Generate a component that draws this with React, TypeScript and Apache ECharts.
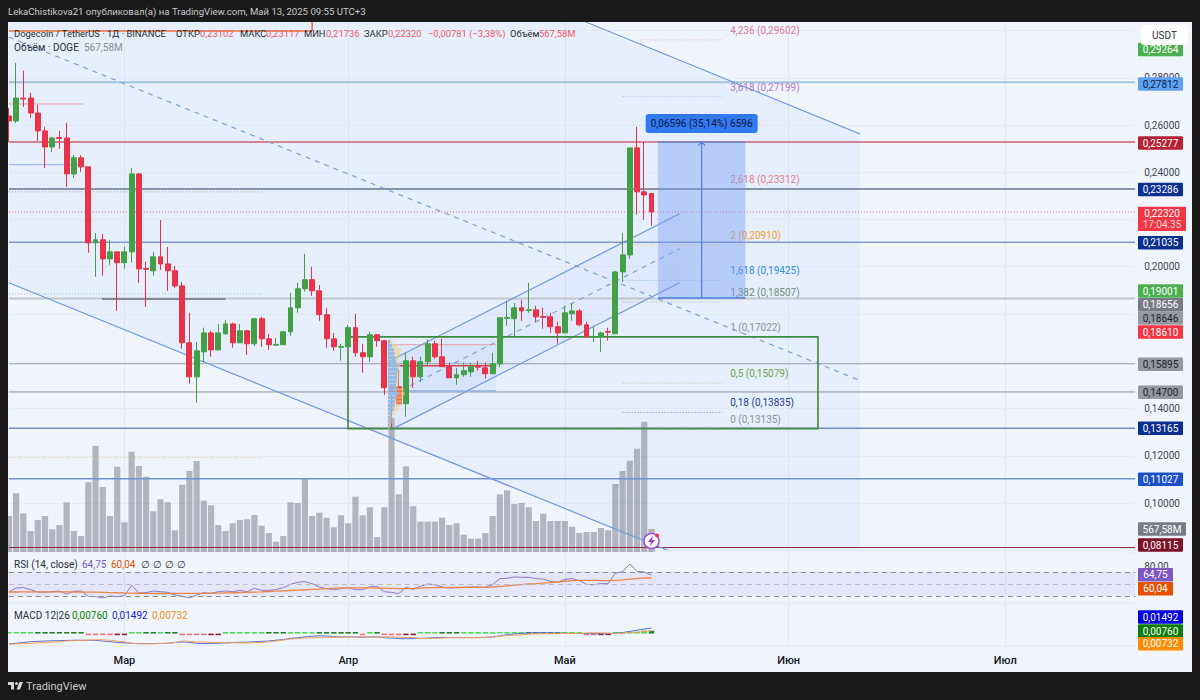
import { useEffect, useRef } from 'react';
import * as echarts from 'echarts';

const FONT = 'Roboto, sans-serif';

// day slots on the time axis, first one is 13 Feb
const SLOT_COUNT = 157;
const monthStarts = [16, 47, 77, 108, 138];
const monthLabels = ['Мар', 'Апр', 'Май', 'Июн', 'Июл'];
const priceTickLabels = [0.28, 0.26, 0.24, 0.2, 0.14, 0.12, 0.1];

// open, close, low, high
const candles = [
  [0.2638, 0.2617, 0.2528, 0.2672], [0.2617, 0.2714, 0.2609, 0.2863], [0.2714, 0.271, 0.2676, 0.283], [0.2714, 0.2651, 0.263, 0.2736],
  [0.2651, 0.2575, 0.2533, 0.2685], [0.2575, 0.2507, 0.2418, 0.2592], [0.2507, 0.2545, 0.2486, 0.255], [0.2547, 0.2543, 0.2499, 0.2575],
  [0.2545, 0.2393, 0.2338, 0.2609], [0.2393, 0.2461, 0.2376, 0.2473], [0.2461, 0.2423, 0.2401, 0.2473], [0.2423, 0.2101, 0.2059, 0.2423],
  [0.2101, 0.2114, 0.1957, 0.2143], [0.2114, 0.2033, 0.1962, 0.2139], [0.2033, 0.2063, 0.2008, 0.2114], [0.2063, 0.2017, 0.1813, 0.2063],
  [0.2017, 0.2063, 0.1991, 0.2084], [0.2063, 0.2393, 0.2017, 0.2418], [0.2393, 0.1991, 0.1932, 0.2397], [0.1993, 0.1989, 0.183, 0.2021],
  [0.1983, 0.2042, 0.1962, 0.2063], [0.2042, 0.2012, 0.1987, 0.2198], [0.2012, 0.1983, 0.1898, 0.2084], [0.1983, 0.1919, 0.1911, 0.2004],
  [0.1919, 0.1678, 0.1653, 0.1936], [0.1678, 0.1534, 0.1505, 0.1805], [0.1534, 0.1644, 0.1424, 0.1682], [0.164, 0.172, 0.1598, 0.1742],
  [0.172, 0.1648, 0.1619, 0.1729], [0.1648, 0.172, 0.1648, 0.1758], [0.1716, 0.1758, 0.1712, 0.1775], [0.1758, 0.1678, 0.1657, 0.1763],
  [0.1678, 0.1729, 0.1678, 0.1758], [0.1729, 0.1674, 0.1627, 0.1733], [0.1674, 0.178, 0.1665, 0.1784], [0.178, 0.1695, 0.1661, 0.1788],
  [0.1695, 0.167, 0.1648, 0.1716], [0.1668, 0.1671, 0.1665, 0.1699], [0.167, 0.1725, 0.167, 0.1725], [0.1725, 0.1826, 0.1708, 0.189],
  [0.1826, 0.1907, 0.1805, 0.1932], [0.1907, 0.1945, 0.1894, 0.2055], [0.1945, 0.1898, 0.1877, 0.2], [0.1898, 0.1797, 0.1771, 0.1923],
  [0.1797, 0.1695, 0.1657, 0.1826], [0.1695, 0.1661, 0.1644, 0.172], [0.1659, 0.1662, 0.1602, 0.1674], [0.1661, 0.1742, 0.1661, 0.1754],
  [0.1742, 0.1636, 0.1619, 0.1801], [0.1636, 0.1619, 0.1551, 0.1674], [0.1619, 0.1712, 0.1598, 0.1725], [0.1712, 0.1687, 0.1661, 0.1716],
  [0.1687, 0.1488, 0.1458, 0.1691], [0.1488, 0.147, 0.1319, 0.1505], [0.1492, 0.142, 0.1416, 0.1564], [0.142, 0.1602, 0.1365, 0.1636],
  [0.1602, 0.1534, 0.1488, 0.1619], [0.1534, 0.1598, 0.1513, 0.1619], [0.1598, 0.1674, 0.1585, 0.1691], [0.1674, 0.1619, 0.161, 0.1687],
  [0.1619, 0.1577, 0.1577, 0.1695], [0.1577, 0.153, 0.153, 0.1594], [0.153, 0.1543, 0.15, 0.1572], [0.1543, 0.156, 0.1534, 0.1594],
  [0.1555, 0.1577, 0.1534, 0.1594], [0.1578, 0.1575, 0.156, 0.1602], [0.1572, 0.1547, 0.1526, 0.1594], [0.1547, 0.1589, 0.1547, 0.1636],
  [0.1589, 0.1784, 0.1577, 0.1784], [0.1782, 0.1785, 0.175, 0.1856], [0.178, 0.1826, 0.1704, 0.1847], [0.1826, 0.1813, 0.1771, 0.186],
  [0.1815, 0.1818, 0.1805, 0.1932], [0.1818, 0.1788, 0.1767, 0.1835], [0.1789, 0.1786, 0.1737, 0.1826], [0.1788, 0.1746, 0.172, 0.1805],
  [0.1746, 0.172, 0.1674, 0.1767], [0.172, 0.1805, 0.172, 0.1835], [0.1801, 0.1813, 0.1771, 0.1847], [0.1813, 0.1754, 0.175, 0.1822],
  [0.1754, 0.1704, 0.1699, 0.1767], [0.1702, 0.1705, 0.1682, 0.1746], [0.1704, 0.172, 0.164, 0.1725], [0.1726, 0.1723, 0.1687, 0.1742],
  [0.1716, 0.1978, 0.1716, 0.1983], [0.1978, 0.205, 0.1936, 0.2143], [0.205, 0.2503, 0.2033, 0.2503], [0.2503, 0.2317, 0.222, 0.2592],
  [0.2317, 0.2304, 0.2198, 0.2528], [0.23102, 0.2232, 0.21736, 0.23117],
];

// volume in millions
const volumes = [
  889, 1450, 956, 519, 790, 889, 561, 667, 1228, 519, 395, 1722, 2618, 1606, 889, 2107, 734, 2477, 2124, 1860,
  1005, 1302, 1228, 536, 1662, 2001, 2248, 1267, 1153, 667, 519, 709, 790, 808, 914, 650, 469, 254, 395, 1228,
  1210, 1820, 889, 971, 847, 610, 906, 709, 1366, 906, 1104, 370, 1104, 3310, 1425, 2117, 1129, 748, 748, 748,
  847, 667, 709, 427, 329, 329, 469, 889, 1425, 1524, 1186, 1210, 1104, 766, 946, 766, 766, 766, 625, 469,
  494, 494, 593, 536, 1680, 2001, 2255, 2552, 3218, 568,
];

const rsiValues = [
  36.7, 43.3, 43.9, 40.6, 36.7, 36.1, 37.2, 38.3, 33.3, 37.8, 38.3, 29.4, 28.9, 26.7, 30, 28.9, 30.6, 47.8, 35, 35.6,
  38.3, 37.2, 36.1, 31.7, 29.4, 26.7, 31.7, 35.6, 34.4, 37.2, 38.3, 37.2, 39.4, 37.2, 42.8, 39.4, 39.4, 40.6, 43.9, 49.4,
  52.8, 53.9, 50.6, 45, 42.2, 40.6, 42.2, 43.9, 40.6, 40.6, 45.6, 46.1, 37.2, 36.1, 33.9, 44.4, 41.1, 46.1, 50, 48.9,
  45, 43.3, 43.9, 44.4, 45, 45, 44.4, 48.9, 58.9, 59.4, 61.7, 61.1, 61.1, 58.9, 58.3, 54.4, 52.8, 57.8, 58.9, 55.6,
  49.4, 48.9, 50.6, 50.6, 68.3, 70.6, 83.3, 71.1, 70, 64.75,
];

const rsiAverage = [
  36.7, 36.7, 36.8, 36.9, 37, 37, 36.9, 36.8, 36.8, 36.7, 36.6, 36.5, 36.3, 36, 35.7, 35.4, 35, 34.8, 34.6, 34.4,
  34.2, 34.2, 34.2, 34.3, 34.3, 34.4, 34.4, 34.5, 34.6, 34.8, 35.1, 35.4, 35.8, 36.2, 36.6, 37, 37.5, 38, 38.6, 39.2,
  39.8, 40.4, 41, 41.6, 42.2, 43, 43.4, 43.5, 43.6, 43.6, 43.4, 43.2, 43, 42.7, 42.3, 42.2, 42.6, 43.2, 43.8, 44,
  44.1, 44.2, 44.2, 44.3, 44.4, 44.5, 44.6, 45, 46, 47, 48, 49, 50, 50.6, 51.4, 52.4, 53.3, 54.6, 55.5, 56,
  56.2, 56, 55.8, 55.7, 56.2, 57, 58, 59, 60, 60.04,
];

const macdLine = [
  -0.028, -0.026, -0.024, -0.022, -0.021, -0.02, -0.0195, -0.019, -0.0185, -0.018, -0.018, -0.018, -0.0185, -0.02, -0.022, -0.024, -0.025,
  -0.026, -0.027, -0.027, -0.027, -0.0265, -0.026, -0.024, -0.0225, -0.024, -0.026, -0.027, -0.0265, -0.026,
  -0.025, -0.024, -0.0235, -0.023, -0.022, -0.021, -0.02, -0.018, -0.016, -0.013, -0.011, -0.009, -0.007, -0.006, -0.0065, -0.008, -0.009,
  -0.009, -0.009, -0.01, -0.009, -0.009, -0.011, -0.012, -0.0135, -0.014, -0.0135, -0.013, -0.012, -0.011, -0.0105, -0.0105, -0.0105, -0.0105, -0.0105, -0.0105, -0.01, -0.009,
  -0.006, -0.003, -0.001, 0.0005, 0.002, 0.0025, 0.0025, 0.002, 0.0015, 0.001, 0.0005, 0.0002, 0, -0.0002, -0.0003, -0.0003,
  0.001, 0.003, 0.006, 0.009, 0.0125, 0.01492,
];

const macdSignal = [
  -0.029, -0.028, -0.027, -0.0265, -0.025, -0.024, -0.023, -0.0215, -0.02, -0.019, -0.0185, -0.0175, -0.0165, -0.0165, -0.018, -0.0205, -0.022,
  -0.0265, -0.0275, -0.0275, -0.0275, -0.027, -0.0265, -0.0245, -0.02, -0.021, -0.0225, -0.023, -0.0235, -0.024,
  -0.026, -0.025, -0.025, -0.025, -0.0245, -0.024, -0.0225, -0.02, -0.0175, -0.015, -0.0135, -0.012, -0.0115, -0.01, -0.01, -0.01, -0.01,
  -0.0095, -0.0095, -0.0085, -0.0095, -0.0095, -0.009, -0.009, -0.0095, -0.0105, -0.0105, -0.0135, -0.013, -0.013, -0.012, -0.011, -0.011, -0.011, -0.011, -0.011, -0.0105, -0.0095,
  -0.007, -0.005, -0.004, -0.0035, -0.0015, -0.0005, 0, -0.0005, 0.001, 0.0005, 0.0002, 0.0001, 0.002, 0.0022, 0.0022, 0.0017,
  0, 0.001, 0.0025, 0.0035, 0.006, 0.00732,
];

const macdHistogram = [
  0.001, 0.002, 0.003, 0.0045, 0.004, 0.0035, 0.003, 0.002, 0.001, 0.0008, 0.0004,
  -0.002, -0.003, -0.0035, -0.004, -0.0035, -0.003,
  0.0006, 0.0008, 0.0006, 0.0005, 0.0006, 0.0004, 0.0003,
  -0.002, -0.003, -0.0035, -0.004, -0.003, -0.002,
  0.0008, 0.001, 0.0015, 0.002, 0.0025, 0.003, 0.0025, 0.002,
  0.0015, 0.002, 0.0025, 0.003, 0.0045, 0.004, 0.0035, 0.002, 0.001,
  0.0005, 0.0004, -0.0015, 0.0005, 0.0004, -0.002, -0.003, -0.004, -0.0035, -0.003,
  0.0005, 0.001, 0.002, 0.0015, 0.0005, 0.0004, 0.0004, 0.0004, 0.0004, 0.0004, 0.0004,
  0.001, 0.002, 0.003, 0.004, 0.0035, 0.003, 0.0025,
  0.0005, 0.0004, 0.0004, 0.0004, 0.0004,
  -0.002, -0.0025, -0.0025, -0.002,
  0.001, 0.002, 0.0035, 0.005, 0.0085, 0.0076,
];

// horizontal levels over the whole pane
const levelPrices = [0.27812, 0.25277, 0.23286, 0.2232, 0.21035, 0.18656, 0.15895, 0.147, 0.13165, 0.11027, 0.08115];

// short drawings: slot from, price from, slot to, price to
const shortLines = [
  [0, 0.2998, 42, 0.2998],
  [42, 0.2998, 42, 0.32],
  [0, 0.2689, 10.4, 0.2689],
  [0, 0.2432, 10.4, 0.2432],
  [0, 0.2317, 35, 0.2317],
  [0, 0.1885, 35, 0.1885],
  [12.9, 0.1864, 30, 0.1864],
  [0, 0.1192, 35, 0.1192],
  [52.5, 0.167, 67.5, 0.167],
  [52.5, 0.1581, 67.5, 0.1581],
  [52.5, 0.1475, 67.5, 0.1475],
];

const downChannel = [
  [78.8, 0.305, 117.9, 0.2562],
  [0, 0.2972, 117.6, 0.1522],
  [0, 0.1932, 91.8, 0.0793],
];

const upChannel = [
  [53.06, 0.1606, 92.9, 0.2224],
  [53.06, 0.1458, 92.9, 0.2076],
  [53.5, 0.1319, 92.9, 0.1932],
];

const channelAreas = [
  [[0, 0.4005], [117.9, 0.2562], [117.9, 0.0793], [91.8, 0.0793], [0, 0.1932]],
  [[53.06, 0.1606], [92.9, 0.2224], [92.9, 0.1932], [53.5, 0.1319]],
];

const zoneBox = [46.97, 0.1703, 112.06, 0.1315];
const valueAreaBox = [52.5, 0.167, 67.5, 0.1475];
const longBox = [89.9, 0.25277, 102, 0.18681];
const longLabel = '0,06596 (35,14%) 6596';

const fibTexts = ['4,236 (0,29602)', '3,618 (0,27199)', '2,618 (0,23312)', '2 (0,20910)', '1,618 (0,19425)', '1,382 (0,18507)', '1 (0,17022)', '0,5 (0,15079)', '0,18 (0,13835)', '0 (0,13135)'];
const fibPrices = [0.29602, 0.27199, 0.23312, 0.2091, 0.19425, 0.18507, 0.17022, 0.15079, 0.13835, 0.13135];
const fibLineFrom = [87, 85, 85, 86.3, 85, 85, 85, 85, 85, 85];
const fibLineTo = 98.8;
const fibTextAt = 99.9;

// volume profile rows: price, width of the blue part, width of the whole row (in slots)
const profilePrices = [0.1682, 0.1665, 0.1648, 0.1631, 0.1614, 0.1598, 0.1581, 0.1564, 0.1547, 0.153, 0.1513, 0.1496, 0.1479, 0.1462, 0.1445, 0.1428, 0.1411, 0.1395, 0.1378, 0.1361, 0.1344, 0.1327, 0.131];
const profileBlue = [0.32, 0.55, 0.78, 0.92, 1.02, 1.11, 1.39, 1.39, 1.29, 1.25, 1.2, 1.11, 1.29, 1.39, 1.11, 1.02, 0.92, 0.78, 0.55, 0.46, 0.32, 0.18, 0.09];
const profileTotal = [0.65, 1.25, 1.85, 1.71, 1.48, 1.39, 1.66, 1.57, 1.66, 1.57, 1.48, 1.48, 2.17, 2.31, 2.03, 1.94, 1.57, 1.39, 1.02, 0.78, 0.55, 0.37, 0.18];

const headerText = 'LekaChistikova21 опубликовал(а) на TradingView.com, Май 13, 2025 09:55 UTC+3';

const DARK = '#1a1a1a';
const UP = '#43a047';
const DOWN = '#e8334a';
const TEXT_SIZE = 10;
const LEGEND_SIZE = 9.4;

const levelStyles: any[] = [
  ['#a3c3de', 2], ['#c9606e', 1.5], ['#8492aa', 2], ['#e0609a', 1, [1, 2]], ['#8298c9', 1.5], ['#c3c5cb', 2],
  ['#9a9eab', 1], ['#8f93a0', 1], ['#7189bb', 1.5], ['#7391d2', 1.5], ['#8a2a3c', 1],
];
const shortStyles: any[] = [
  ['#e8703a', 1.5], ['#e8703a', 1.5], ['#f0a0a8', 1], ['#90b0e8', 1], ['#a0a4ad', 1, [1, 2]], ['#8cc4c4', 1, [1, 2]],
  ['#85878d', 2], ['#e8c27a', 1, [1, 2]], ['#e8a0a8', 1], ['#d9404a', 1.5], ['#90b0e8', 1.2],
];
const channelStyles: any[] = [
  ['#6f9ae0', 1.2], ['#7fa3d9', 1.2, [5, 5]], ['#6f9ae0', 1.2],
  ['#6f9ae0', 1.2], ['#7fa3d9', 1.2, [5, 5]], ['#6f9ae0', 1.2],
];
const segmentStyles = [...levelStyles, ...shortStyles, ...channelStyles];
const fibColors = ['#e6789a', '#b07cc6', '#e38089', '#f0a030', '#2f8fe0', '#6f8f76', '#8f939c', '#6aa84f', '#1f3f8f', '#8f939c'];

echarts.graphic.registerShape(
  'tvLogo',
  echarts.graphic.extendPath('M14 6H2v6h6v9h6V6zm12 15h-7l6-15h7l-6 15zm-7-9a3 3 0 1 0 0-6 3 3 0 0 0 0 6z', {}),
);

const fmtPrice = (v: number) => v.toFixed(5).replace('.', ',');

function tag(text: string, cy: number, bg: string, fg = '#ffffff', x2 = 1183) {
  return [
    { type: 'rect', z: 60, shape: { x: 1138, y: cy - 6.8, width: x2 - 1138, height: 13.6, r: 1 }, style: { fill: bg } },
    { type: 'text', z: 61, style: { x: (1138 + x2) / 2, y: cy, text, fill: fg, font: `${TEXT_SIZE}px ${FONT}`, textAlign: 'center', textVerticalAlign: 'middle' } },
  ];
}

function label(text: string, x: number, y: number, fill: string, size = TEXT_SIZE) {
  return { type: 'text', z: 50, style: { x, y, text, fill, font: `${size}px ${FONT}`, textVerticalAlign: 'middle' } };
}

function buildOption(): any {
  const slots = Array.from({ length: SLOT_COUNT }, (_, i) => String(i));
  const monthLine = { show: true, interval: (i: number) => monthStarts.includes(i), lineStyle: { color: '#e1e8f1', width: 1 } };

  const categoryAxis = (gridIndex: number, extra: any = {}) => ({
    type: 'category', gridIndex, data: slots, boundaryGap: false,
    axisLine: { show: false }, axisTick: { show: false }, axisLabel: { show: false }, splitLine: { show: false },
    ...extra,
  });

  const segments = [...levelPrices.map((p) => [0, p, 156, p]), ...shortLines, ...downChannel, ...upChannel];

  const panel: any[] = [
    { type: 'rect', z: -1, shape: { x: 8, y: 22, width: 1184, height: 650 }, style: { fill: '#f0f5fc' } },
    { type: 'line', z: 1, shape: { x1: 8, y1: 552, x2: 1135, y2: 552 }, style: { stroke: '#e1e8f1' } },
    { type: 'line', z: 1, shape: { x1: 8, y1: 603, x2: 1135, y2: 603 }, style: { stroke: '#e1e8f1' } },
    { type: 'line', z: 1, shape: { x1: 8, y1: 646, x2: 1135, y2: 646 }, style: { stroke: '#e1e8f1' } },
  ];

  const frame: any[] = [
    { type: 'rect', z: 40, shape: { x: 0, y: 0, width: 1200, height: 22 }, style: { fill: DARK } },
    { type: 'rect', z: 40, shape: { x: 0, y: 0, width: 8, height: 700 }, style: { fill: DARK } },
    { type: 'rect', z: 40, shape: { x: 1192, y: 0, width: 8, height: 700 }, style: { fill: DARK } },
    { type: 'rect', z: 40, shape: { x: 0, y: 672, width: 1200, height: 28 }, style: { fill: DARK } },
    { type: 'text', z: 41, style: { x: 8, y: 11.5, text: headerText, fill: '#c9c9c9', font: `9.6px ${FONT}`, textVerticalAlign: 'middle' } },
    { type: 'tvLogo', z: 41, x: 7, y: 679, scaleX: 0.5, scaleY: 0.5, style: { fill: '#d6d6d6' } },
    { type: 'text', z: 41, style: { x: 26, y: 686, text: 'TradingView', fill: '#c9c9c9', font: `11px ${FONT}`, textVerticalAlign: 'middle' } },
  ];

  const legend: any[] = [
    label('Dogecoin / TetherUS · 1Д · BINANCE', 14, 33, '#2a2e39', LEGEND_SIZE),
    label('ОТКР', 176, 33, '#2a2e39', LEGEND_SIZE), label('0,23102', 200, 33, '#ef5a6a', LEGEND_SIZE),
    label('МАКС', 240, 33, '#2a2e39', LEGEND_SIZE), label('0,23117', 266, 33, '#ef5a6a', LEGEND_SIZE),
    label('МИН', 304, 33, '#2a2e39', LEGEND_SIZE), label('0,21736', 326, 33, '#ef5a6a', LEGEND_SIZE),
    label('ЗАКР', 364, 33, '#2a2e39', LEGEND_SIZE), label('0,22320', 388, 33, '#ef5a6a', LEGEND_SIZE),
    label('−0,00781 (−3,38%)', 428, 33, '#ef5a6a', LEGEND_SIZE),
    label('Объём', 510, 33, '#2a2e39', LEGEND_SIZE), label('567,58M', 539, 33, '#ef5a6a', LEGEND_SIZE),
    label('Объём · DOGE', 14, 47, '#2a2e39'), label('567,58M', 84, 47, '#8a8e99'),
    label('RSI (14, close)', 14, 564, '#2a2e39'), label('64,75', 82, 564, '#7e57c2'), label('60,04', 111, 564, '#e65100'),
    label('∅', 141, 564, '#2a2e39'), label('∅', 153, 564, '#2a2e39'), label('∅', 165, 564, '#2a2e39'), label('∅', 177, 564, '#2a2e39'),
    label('MACD 12|26', 14, 615, '#2a2e39'), label('0,00760', 72, 615, '#0a7d0a'), label('0,01492', 112, 615, '#1c1cd8'), label('0,00732', 152, 615, '#f5921e'),
  ];

  const tags: any[] = [
    ...tag(fmtPrice(0.29264), 49.5, '#4caf50'),
    ...tag(fmtPrice(0.27812), 84, '#5ea1f5', '#12223f'),
    ...tag(fmtPrice(0.25277), 143, '#b22233'),
    ...tag(fmtPrice(0.23286), 189.5, '#0d2f8f'),
    { type: 'rect', z: 60, shape: { x: 1138, y: 206.7, width: 48, height: 24.3, r: 1 }, style: { fill: '#f23645' } },
    { type: 'text', z: 61, style: { x: 1162, y: 213, text: fmtPrice(0.2232), fill: '#ffffff', font: `${TEXT_SIZE}px ${FONT}`, textAlign: 'center', textVerticalAlign: 'middle' } },
    { type: 'text', z: 61, style: { x: 1162, y: 224.5, text: '17:04:35', fill: '#ffd5d9', font: `${TEXT_SIZE}px ${FONT}`, textAlign: 'center', textVerticalAlign: 'middle' } },
    ...tag(fmtPrice(0.21035), 242.7, '#0d2f8f'),
    ...tag(fmtPrice(0.19001), 291, '#4caf50'),
    ...tag(fmtPrice(0.18656), 304.7, '#787b86'),
    ...tag(fmtPrice(0.18646), 318, '#9598a1', '#22252d'),
    ...tag(fmtPrice(0.1861), 332, '#f23645'),
    ...tag(fmtPrice(0.15895), 364.3, '#9598a1', '#22252d'),
    ...tag(fmtPrice(0.147), 392.3, '#9598a1', '#22252d'),
    ...tag(fmtPrice(0.13165), 428.3, '#0d2f8f'),
    ...tag(fmtPrice(0.11027), 479.3, '#1e50c8'),
    ...tag('567,58M', 529, '#787b86', '#ffffff', 1186),
    ...tag(fmtPrice(0.08115), 545, '#7d1128'),
    ...tag('64,75', 574.7, '#7e57c2', '#ffffff', 1173),
    ...tag('60,04', 588.7, '#e65100', '#ffffff', 1173),
    ...tag(fmtPrice(0.01492), 617, '#0000e0'),
    ...tag(fmtPrice(0.0076), 631, '#0a7d0a'),
    ...tag(fmtPrice(0.00732), 643.7, '#ff8c00'),
    { type: 'rect', z: 62, shape: { x: 1141, y: 25, width: 47, height: 20, r: 3 }, style: { fill: '#ffffff' } },
    { type: 'text', z: 63, style: { x: 1164.5, y: 35, text: 'USDT', fill: '#2a2e39', font: `${TEXT_SIZE}px ${FONT}`, textAlign: 'center', textVerticalAlign: 'middle' } },
  ];

  const bolt: any[] = [
    { type: 'circle', z: 55, shape: { cx: 651.5, cy: 541, r: 7.5 }, style: { fill: '#ffffff', stroke: '#a64dd6', lineWidth: 1.5 } },
    { type: 'polygon', z: 56, shape: { points: [[653, 535.5], [648, 542], [651, 542], [650, 546.5], [655, 540], [652, 540]] }, style: { fill: '#9c3fd0' } },
    { type: 'circle', z: 56, shape: { cx: 657, cy: 535.5, r: 2 }, style: { fill: '#f23645' } },
  ];

  return {
    animation: false,
    backgroundColor: DARK,
    textStyle: { fontFamily: FONT },
    grid: [
      { left: 8.9, right: 64.8, top: -16.75, height: 567, outerBoundsMode: 'none' },
      { left: 8.9, right: 64.8, top: 402, height: 150, outerBoundsMode: 'none' },
      { left: 8.9, right: 64.8, top: 554, height: 48, outerBoundsMode: 'none' },
      { left: 8.9, right: 64.8, top: 604, height: 40.7, outerBoundsMode: 'none' },
    ],
    xAxis: [
      categoryAxis(0, { splitLine: monthLine }),
      { type: 'value', gridIndex: 0, min: 0, max: SLOT_COUNT - 1, show: false },
      categoryAxis(1),
      categoryAxis(2, { splitLine: monthLine }),
      categoryAxis(3, {
        splitLine: monthLine,
        axisLabel: {
          show: true,
          interval: (i: number) => monthStarts.includes(i),
          formatter: (_: string, i: number) => monthLabels[monthStarts.indexOf(i)] ?? '',
          color: '#131722', fontSize: 11, fontFamily: FONT, fontWeight: 500, margin: 10,
        },
      }),
    ],
    yAxis: [
      {
        type: 'value', gridIndex: 0, position: 'right', min: 0.08, max: 0.32, interval: 0.02,
        axisLine: { show: false }, axisTick: { show: false },
        splitLine: { lineStyle: { color: '#e5ecf5', width: 1 } },
        axisLabel: {
          color: '#434651', fontSize: TEXT_SIZE, fontFamily: FONT, margin: 9,
          formatter: (v: number) => (priceTickLabels.some((t) => Math.abs(t - v) < 1e-6) ? fmtPrice(v) : ''),
        },
      },
      { type: 'value', gridIndex: 1, min: 0, max: 3705, show: false },
      {
        type: 'value', gridIndex: 2, position: 'right', min: 20, max: 100, interval: 10,
        axisLine: { show: false }, axisTick: { show: false }, splitLine: { show: false },
        axisLabel: {
          color: '#434651', fontSize: TEXT_SIZE, fontFamily: FONT, margin: 9,
          formatter: (v: number) => (v === 80 ? '80,00' : ''),
        },
      },
      { type: 'value', gridIndex: 3, min: -0.03, max: 0.08, show: false },
    ],
    series: [
      {
        type: 'custom', name: 'channel areas', xAxisIndex: 1, yAxisIndex: 0, clip: true, silent: true, z: 1,
        data: channelAreas.map((a) => a[0]),
        renderItem: (params: any, api: any) => ({
          type: 'polygon',
          shape: { points: channelAreas[params.dataIndex].map((p) => api.coord(p)) },
          style: { fill: params.dataIndex === 0 ? 'rgba(66,133,244,0.055)' : 'rgba(66,133,244,0.04)' },
        }),
      },
      {
        type: 'custom', name: 'value area', xAxisIndex: 1, yAxisIndex: 0, clip: true, silent: true, z: 1,
        data: [valueAreaBox],
        renderItem: (_: any, api: any) => {
          const a = api.coord([api.value(0), api.value(1)]);
          const b = api.coord([api.value(2), api.value(3)]);
          return { type: 'rect', shape: { x: a[0], y: a[1], width: b[0] - a[0], height: b[1] - a[1] }, style: { fill: 'rgba(66,133,244,0.06)' } };
        },
      },
      {
        type: 'bar', name: 'Объём', xAxisIndex: 2, yAxisIndex: 1, data: volumes, barWidth: 6.2, z: 2, silent: true,
        itemStyle: { color: 'rgba(120,123,134,0.52)' },
      },
      {
        type: 'custom', name: 'lines', xAxisIndex: 1, yAxisIndex: 0, clip: true, silent: true, z: 3,
        encode: { x: [0, 2], y: [1, 3] },
        data: segments,
        renderItem: (params: any, api: any) => {
          const a = api.coord([api.value(0), api.value(1)]);
          const b = api.coord([api.value(2), api.value(3)]);
          const s = segmentStyles[params.dataIndex];
          return {
            type: 'line',
            shape: { x1: a[0], y1: a[1], x2: b[0], y2: b[1] },
            style: { stroke: s[0], lineWidth: s[1], lineDash: s[2] ?? null, fill: null },
          };
        },
      },
      {
        type: 'custom', name: 'zone', xAxisIndex: 1, yAxisIndex: 0, clip: true, silent: true, z: 3,
        encode: { x: [0, 2], y: [1, 3] },
        data: [zoneBox],
        renderItem: (_: any, api: any) => {
          const a = api.coord([api.value(0), api.value(1)]);
          const b = api.coord([api.value(2), api.value(3)]);
          return {
            type: 'rect',
            shape: { x: a[0], y: a[1], width: b[0] - a[0], height: b[1] - a[1] },
            style: { fill: null, stroke: '#3d8b40', lineWidth: 1.6 },
          };
        },
      },
      {
        type: 'candlestick', name: 'DOGEUSDT', xAxisIndex: 0, yAxisIndex: 0, data: candles, barWidth: 5.4, z: 4, silent: true,
        itemStyle: { color: UP, color0: DOWN, borderColor: UP, borderColor0: DOWN, borderWidth: 1 },
      },
      {
        type: 'custom', name: 'profile', xAxisIndex: 1, yAxisIndex: 0, clip: true, silent: true, z: 5,
        data: profilePrices.map((p) => [52.5, p]),
        renderItem: (params: any, api: any) => {
          const i = params.dataIndex;
          const a = api.coord([52.5, profilePrices[i]]);
          const blueEnd = api.coord([52.5 + profileBlue[i], profilePrices[i]]);
          const allEnd = api.coord([52.5 + profileTotal[i], profilePrices[i]]);
          return {
            type: 'group',
            children: [
              { type: 'rect', shape: { x: a[0], y: a[1] - 2, width: allEnd[0] - a[0], height: 3.6 }, style: { fill: 'rgba(245,205,120,0.6)' } },
              { type: 'rect', shape: { x: a[0], y: a[1] - 2, width: blueEnd[0] - a[0], height: 3.6 }, style: { fill: 'rgba(140,186,240,0.92)' } },
            ],
          };
        },
      },
      {
        type: 'custom', name: 'fib', xAxisIndex: 1, yAxisIndex: 0, clip: true, silent: true, z: 6,
        data: fibPrices.map((p, i) => [fibLineFrom[i], p]),
        renderItem: (params: any, api: any) => {
          const i = params.dataIndex;
          const a = api.coord([fibLineFrom[i], fibPrices[i]]);
          const b = api.coord([fibLineTo, fibPrices[i]]);
          const t = api.coord([fibTextAt, fibPrices[i]]);
          return {
            type: 'group',
            children: [
              { type: 'line', shape: { x1: a[0], y1: a[1], x2: b[0], y2: b[1] }, style: { stroke: fibColors[i], lineWidth: 1, lineDash: [1, 2], opacity: 0.6, fill: null } },
              { type: 'text', style: { x: t[0], y: t[1] - 9.5, text: fibTexts[i], fill: fibColors[i], font: `${TEXT_SIZE}px ${FONT}`, textVerticalAlign: 'middle' } },
            ],
          };
        },
      },
      {
        type: 'custom', name: 'long position', xAxisIndex: 1, yAxisIndex: 0, silent: true, z: 7,
        encode: { x: [0, 2], y: [1, 3] },
        data: [longBox],
        renderItem: (_: any, api: any) => {
          const a = api.coord([api.value(0), api.value(1)]);
          const b = api.coord([api.value(2), api.value(3)]);
          const mid = (a[0] + b[0]) / 2;
          const line = (x1: number, y1: number, x2: number, y2: number, w = 1) => ({
            type: 'line', shape: { x1, y1, x2, y2 }, style: { stroke: '#4f7fe0', lineWidth: w, fill: null },
          });
          return {
            type: 'group',
            children: [
              { type: 'rect', shape: { x: a[0], y: a[1], width: b[0] - a[0], height: b[1] - a[1] }, style: { fill: 'rgba(120,160,245,0.42)' } },
              line(a[0], a[1], b[0], a[1]),
              line(a[0], b[1], b[0], b[1], 1.5),
              line(mid, a[1], mid, b[1], 1.2),
              line(mid - 3.5, a[1] + 3.5, mid, a[1], 1.2),
              line(mid + 3.5, a[1] + 3.5, mid, a[1], 1.2),
              { type: 'rect', shape: { x: mid - 56, y: a[1] - 28, width: 112, height: 19, r: 3 }, style: { fill: '#3179f5' } },
              { type: 'text', style: { x: mid, y: a[1] - 18.5, text: longLabel, fill: '#10182e', font: `${TEXT_SIZE}px ${FONT}`, textAlign: 'center', textVerticalAlign: 'middle' } },
            ],
          };
        },
      },
      {
        type: 'line', name: 'RSI', xAxisIndex: 3, yAxisIndex: 2, data: rsiValues, showSymbol: false, silent: true, z: 3,
        lineStyle: { color: '#8d79c9', width: 1 },
        markArea: { silent: true, itemStyle: { color: 'rgba(126,87,194,0.1)' }, data: [[{ yAxis: 70 }, { yAxis: 30 }]] },
        markLine: {
          silent: true, symbol: 'none', label: { show: false },
          lineStyle: { color: '#8b8f9a', type: [5, 4], width: 1 },
          data: [{ yAxis: 70 }, { yAxis: 30 }, { yAxis: 50, lineStyle: { color: '#b9bcc6', type: [5, 4], width: 1 } }],
        },
      },
      {
        type: 'line', name: 'RSI MA', xAxisIndex: 3, yAxisIndex: 2, data: rsiAverage, showSymbol: false, silent: true, z: 3,
        lineStyle: { color: '#e8874f', width: 1.3 },
      },
      {
        type: 'bar', name: 'Hist', xAxisIndex: 4, yAxisIndex: 3, barWidth: 5.4, barMinHeight: 1.6, silent: true, z: 2,
        data: macdHistogram.map((v, i) => {
          const rising = i === 0 || v >= macdHistogram[i - 1];
          const color = v >= 0 ? (rising ? '#4fdc5a' : '#2e7d32') : rising ? '#8a1f2b' : '#ef7180';
          return { value: v, itemStyle: { color } };
        }),
      },
      {
        type: 'line', name: 'MACD', xAxisIndex: 4, yAxisIndex: 3, data: macdLine, showSymbol: false, silent: true, z: 3,
        lineStyle: { color: '#5a6fd0', width: 1 },
      },
      {
        type: 'line', name: 'Signal', xAxisIndex: 4, yAxisIndex: 3, data: macdSignal, showSymbol: false, silent: true, z: 3,
        lineStyle: { color: '#f0a060', width: 1 },
      },
    ],
    graphic: { elements: [...panel, ...legend, ...bolt, ...frame, ...tags] },
  };
}

export default function App() {
  const containerRef = useRef<HTMLDivElement>(null);

  useEffect(() => {
    if (!containerRef.current) return;
    document.body.style.margin = '0';
    const chart = echarts.init(containerRef.current, undefined, { renderer: 'svg' });
    chart.setOption(buildOption());
    return () => chart.dispose();
  }, []);

  return <div ref={containerRef} style={{ position: 'fixed', left: 0, top: 0, width: 1200, height: 700 }} />;
}
